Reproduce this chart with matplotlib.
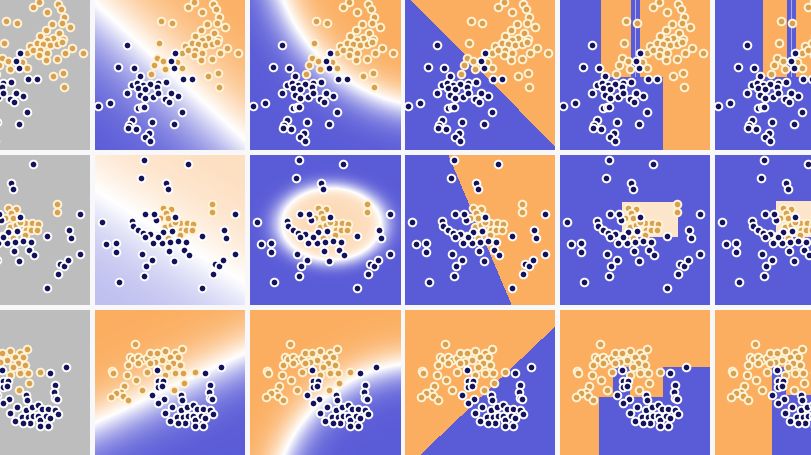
import numpy as np
import matplotlib
matplotlib.use('Agg')
import matplotlib.pyplot as plt
from matplotlib.colors import LinearSegmentedColormap

# colours
BLUE = '#5a5bd7'
ORANGE = '#fbae60'
GRAY = '#bdbdbd'

# point coordinates, read in panel units 0..450 (x right, y down)
moons1_orange = [(298, 6), (355, 12), (278, 22), (362, 28), (320, 35), (372, 50), (197, 62), (230, 70),
                 (335, 72), (365, 68), (390, 80), (318, 90), (358, 100), (300, 108), (340, 115), (322, 120),
                 (370, 118), (192, 128), (270, 138), (290, 130), (308, 132), (330, 135), (350, 132), (367, 125),
                 (395, 145), (428, 158), (262, 160), (280, 150), (300, 150), (322, 160), (296, 166), (375, 158),
                 (350, 178), (318, 180), (185, 173), (205, 182), (245, 185), (210, 206), (262, 205), (178, 196),
                 (168, 222), (338, 228), (368, 218), (372, 262)]
moons1_blue = [(97, 136), (240, 160), (228, 183), (237, 203), (70, 200), (118, 205), (135, 228), (265, 237),
               (290, 238), (112, 255), (125, 250), (145, 255), (165, 252), (190, 248), (212, 247), (130, 265),
               (150, 268), (185, 260), (97, 280), (135, 285), (150, 295), (175, 290), (190, 280), (228, 278),
               (250, 287), (210, 298), (222, 305), (8, 318), (45, 308), (130, 325), (140, 322), (148, 320),
               (260, 335), (172, 365), (238, 372), (112, 360), (102, 375), (100, 385), (122, 388), (162, 400),
               (150, 412), (165, 422)]

circ_orange = [(350, 147), (350, 170), (205, 160), (228, 162), (212, 175), (195, 188), (220, 190), (210, 215),
               (228, 210), (255, 205), (275, 205), (295, 208), (257, 225), (272, 225), (290, 225), (255, 240),
               (185, 243), (218, 248), (240, 200)]
circ_blue = [(148, 16), (280, 27), (137, 70), (212, 85), (218, 103), (420, 177), (22, 200), (150, 177),
             (110, 197), (115, 213), (130, 225), (145, 233), (165, 238), (150, 247), (175, 265), (200, 265),
             (225, 260), (250, 258), (272, 262), (232, 228), (205, 232), (190, 245), (182, 195), (178, 178),
             (240, 185), (320, 243), (388, 225), (393, 250), (32, 267), (62, 265), (62, 290), (140, 297),
             (172, 315), (222, 288), (236, 318), (267, 285), (282, 300), (360, 327), (372, 333), (384, 315),
             (353, 357), (148, 363), (152, 333), (72, 380), (320, 398), (420, 297)]

moons3_orange = [(120, 103), (105, 140), (115, 148), (128, 142), (140, 150), (155, 145), (165, 128), (185, 128),
                 (210, 122), (240, 130), (260, 118), (250, 140), (225, 140), (200, 150), (180, 155), (235, 158),
                 (255, 165), (220, 170), (165, 160), (130, 160), (100, 165), (52, 183), (55, 188), (95, 195),
                 (155, 185), (240, 190), (265, 190), (210, 195), (122, 210), (140, 240), (88, 228), (78, 245),
                 (62, 250), (48, 262), (85, 258), (100, 270), (236, 240), (268, 220), (300, 185)]
moons3_blue = [(185, 180), (330, 188), (378, 172), (190, 213), (205, 213), (188, 232), (200, 228), (172, 255),
               (207, 268), (190, 278), (345, 225), (343, 245), (345, 265), (350, 268), (258, 255), (262, 270),
               (232, 290), (258, 300), (275, 290), (295, 285), (305, 298), (325, 298), (345, 300), (355, 312),
               (210, 308), (225, 333), (250, 330), (245, 320), (265, 320), (280, 318), (295, 318), (300, 330),
               (318, 318), (330, 325), (300, 348), (325, 348), (270, 340), (250, 340)]

datasets = [(moons1_orange, moons1_blue), (circ_orange, circ_blue), (moons3_orange, moons3_blue)]

# decision boundaries, same panel units
lin_soft = [((0, 9), (450, 420), 150, 0.5), ((0, 105), (450, 384), 150, 0.2), ((0, 339), (450, 129), 90, 0.5)]
lin_hard = [((18, 0), (450, 440)), ((130, 0), (320, 450)), ((45, 435), (450, 50))]

cmap = LinearSegmentedColormap.from_list('bwo', [BLUE, '#ffffff', ORANGE])
gx, gy = np.meshgrid(np.arange(450) + 0.5, np.arange(450) + 0.5)


def signed(p0, p1):  # >0 on orange side
    (x0, y0), (x1, y1) = p0, p1
    cr = (x1 - x0) * (gy - y0) - (y1 - y0) * (gx - x0)
    return -cr / np.hypot(x1 - x0, y1 - y0)


def box(v, x0, x1, y0, y1, val):
    v[(gx >= x0) & (gx < x1) & (gy >= y0) & (gy < y1)] = val


def field(r, c):
    if c == 1:
        p0, p1, s, a = lin_soft[r]
        return 0.5 + a * np.tanh(signed(p0, p1) / s)
    if c == 2:
        if r == 0:
            d = 504 - np.hypot(gx - 570, gy + 180)
            return 0.5 + 0.5 * np.tanh(d / 70)
        if r == 1:
            d = 1 - (((gx - 242) / 147) ** 2 + ((gy - 207) / 107) ** 2)
            return 0.5 + np.where(d > 0, 0.22, 0.5) * np.tanh(np.where(d > 0, 3, 1.6) * d)
        d = np.hypot(gx - 510, gy - 600) - 441
        return 0.5 + 0.5 * np.tanh(d / 65)
    if c == 3:
        p0, p1 = lin_hard[r]
        return (signed(p0, p1) > 0).astype(float)
    # trees
    if r == 0:
        v = np.zeros_like(gx)
        a, b, e = (122, 212, 240) if c == 4 else (145, 215, 243)
        box(v, a, b, 0, 230, 1)
        box(v, e, 450, 0, 230, 1)
        box(v, (b + e) / 2 - 2, (b + e) / 2 + 2, 0, 230, 0.25)
        if c == 4:
            box(v, 310, 450, 230, 450, 1)
        return v
    if r == 1:
        v = np.zeros_like(gx)
        if c == 4:
            box(v, 185, 355, 140, 247, 0.66)
        else:
            box(v, 183, 450, 138, 247, 0.66)
        return v
    v = np.ones_like(gx)
    if c == 4:
        box(v, 118, 450, 260, 450, 0)
        box(v, 158, 210, 170, 260, 0)
        box(v, 310, 450, 170, 260, 0)
    else:
        box(v, 170, 213, 170, 450, 0)
        box(v, 213, 450, 255, 450, 0)
    return v


W, H = 811, 455
fig = plt.figure(figsize=(W / 100, H / 100), dpi=100, facecolor='#f8f8fa')

for r in range(3):
    orange, blue = datasets[r]
    for c in range(6):
        left = -60 + 155 * c
        top = 155 * r
        ax = fig.add_axes([left / W, (H - top - 150) / H, 150 / W, 150 / H])
        if c == 0:
            ax.set_facecolor(GRAY)
        else:
            ax.imshow(field(r, c), cmap=cmap, vmin=0, vmax=1, extent=(0, 450, 450, 0),
                      interpolation='nearest', aspect='auto')
        ox, oy = zip(*orange)
        bx, by = zip(*blue)
        ax.scatter(ox, oy, s=30, c='#d9a04f', edgecolors='#fff3d6', linewidths=1.4, zorder=3)
        ax.scatter(bx, by, s=30, c='#15125c', edgecolors='white', linewidths=1.4, zorder=3)
        ax.set_xlim(0, 450)
        ax.set_ylim(450, 0)
        ax.set_xticks([])
        ax.set_yticks([])
        for sp in ax.spines.values():
            sp.set_visible(False)

fig.savefig('out.png', dpi=100, facecolor=fig.get_facecolor())
